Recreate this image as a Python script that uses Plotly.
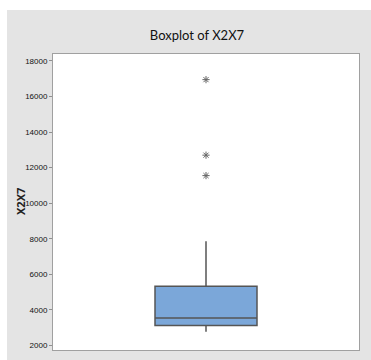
import plotly.graph_objects as go

# Data
category = ["X2X7"]
q1 = [3120]
median = [3530]
q3 = [5330]
lower_whisker = [2760]
upper_whisker = [7850]
outliers = [16950, 12700, 11550]
y_ticks = [2000, 4000, 6000, 8000, 10000, 12000, 14000, 16000, 18000]

W, H = 371, 360
L, R, T, B = 53, 12, 54, 10
PW, PH = W - L - R, H - T - B

fig = go.Figure()
fig.add_trace(go.Box(
    x=[0], q1=q1, median=median, q3=q3,
    lowerfence=lower_whisker, upperfence=upper_whisker,
    width=1, whiskerwidth=0, boxpoints=False,
    fillcolor="#7BA7D9", line=dict(color="#555555", width=1.5),
    hoverinfo="skip", showlegend=False,
))
fig.add_trace(go.Scatter(
    x=[0] * len(outliers), y=outliers, mode="markers",
    marker=dict(symbol="asterisk-open", size=6, color="#666666",
                line=dict(color="#666666", width=1)),
    showlegend=False, hoverinfo="skip",
))

fig.update_layout(
    width=W, height=H,
    margin=dict(l=L, r=R, t=T, b=B),
    paper_bgcolor="#e4e4e4", plot_bgcolor="white",
    title=dict(text="Boxplot of X2X7", x=197 / W, xref="container", xanchor="center",
               y=1 - 35 / H, yref="container", yanchor="middle",
               font=dict(family="Lato", size=13, color="#111111")),
    xaxis=dict(range=[-1.5, 1.5], showticklabels=False, showgrid=False,
               zeroline=False, ticks="", showline=True, linecolor="#a0a0a0",
               linewidth=1, mirror=True),
    yaxis=dict(range=[1736, 18393], tickvals=y_ticks,
               ticktext=[str(v) for v in y_ticks],
               showgrid=False, zeroline=False, ticks="outside", ticklen=3,
               tickcolor="#909090", showline=True, linecolor="#a0a0a0",
               linewidth=1, mirror=True,
               tickfont=dict(family="Liberation Sans", size=8, color="#111111")),
    annotations=[
        dict(text="<b>X2X7</b>", textangle=-90, xref="paper", yref="paper",
             x=(20 - L) / PW, y=(H - B - 202) / PH, xanchor="center", yanchor="middle",
             showarrow=False, font=dict(family="Open Sans", size=11, color="#222222")),
    ],
    shapes=[
        dict(type="rect", xref="paper", yref="paper",
             x0=-L / PW - 0.01, x1=(7 - L) / PW,
             y0=-B / PH - 0.01, y1=1 + T / PH + 0.01,
             fillcolor="white", line=dict(width=0), layer="above"),
        dict(type="rect", xref="paper", yref="paper",
             x0=-L / PW - 0.01, x1=1 + R / PW + 0.01,
             y0=(H - B - 10) / PH, y1=1 + T / PH + 0.01,
             fillcolor="white", line=dict(width=0), layer="above"),
    ],
)

fig.write_html("out.html")
